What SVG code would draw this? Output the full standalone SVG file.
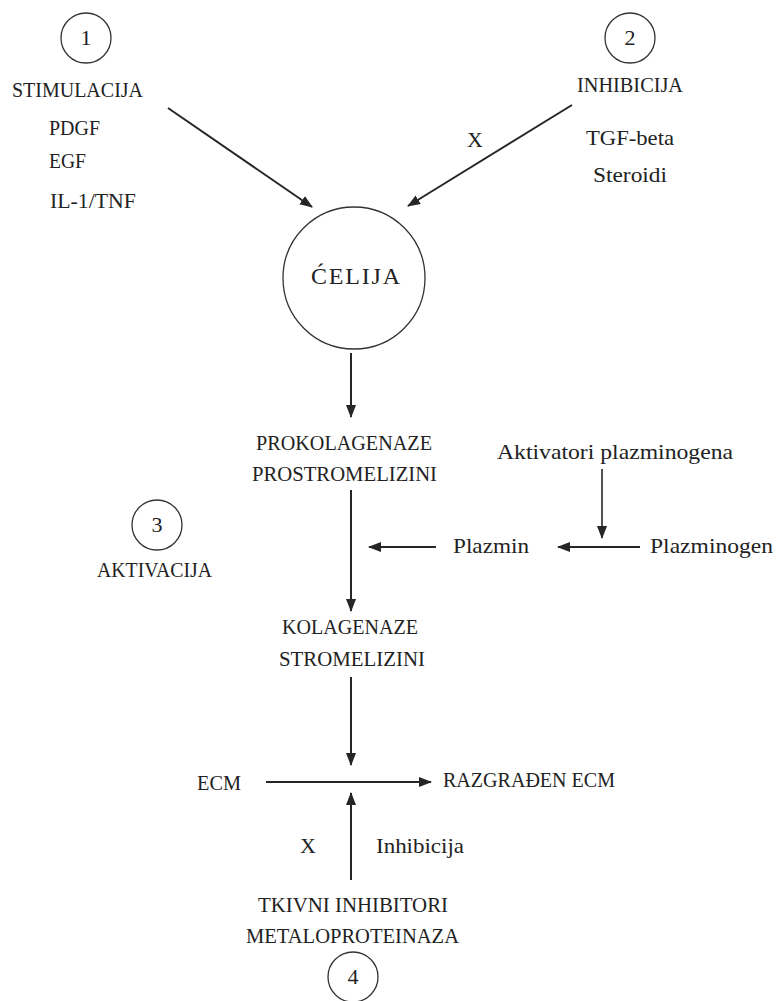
<svg xmlns="http://www.w3.org/2000/svg" width="776" height="1001" viewBox="0 0 776 1001">
<style>
text{font-family:"Liberation Serif","DejaVu Serif",serif;font-size:22px;fill:#222}
.c{fill:none;stroke:#333;stroke-width:1.3}
.a{stroke:#262626;stroke-width:2;fill:none}
.t{stroke:#262626;stroke-width:1.6;fill:none}
.n{text-anchor:middle}
</style>
<defs>
<marker id="ah" markerUnits="userSpaceOnUse" markerWidth="14" markerHeight="12" refX="12" refY="5" orient="auto">
<path d="M0,0 L13,5 L0,10 z" fill="#262626"/>
</marker>
</defs>
<rect width="776" height="1001" fill="#fff"/>
<g id="n1"><circle class="c" cx="86" cy="38" r="25"/><text class="n" x="86" y="45">1</text></g>
<g id="stim"><text x="12" y="97" textLength="131" lengthAdjust="spacingAndGlyphs">STIMULACIJA</text>
<text x="49" y="135" textLength="51" lengthAdjust="spacingAndGlyphs">PDGF</text>
<text x="49" y="168" textLength="37" lengthAdjust="spacingAndGlyphs">EGF</text>
<text x="50" y="208" textLength="86" lengthAdjust="spacingAndGlyphs">IL-1/TNF</text></g>
<g id="n2"><circle class="c" cx="630" cy="38" r="25"/><text class="n" x="630" y="45">2</text></g>
<g id="inh"><text x="577" y="92" textLength="106" lengthAdjust="spacingAndGlyphs">INHIBICIJA</text>
<text x="586" y="145" textLength="88" lengthAdjust="spacingAndGlyphs">TGF-beta</text>
<text x="593" y="182" textLength="74" lengthAdjust="spacingAndGlyphs">Steroidi</text></g>
<g id="cell"><circle class="c" cx="354" cy="278" r="71"/><text x="311" y="284" style="font-size:24px" textLength="89" lengthAdjust="spacing">ĆELIJA</text></g>
<g id="pro"><text x="256" y="450" textLength="176" lengthAdjust="spacingAndGlyphs">PROKOLAGENAZE</text>
<text x="252" y="481" textLength="185" lengthAdjust="spacingAndGlyphs">PROSTROMELIZINI</text></g>
<g id="akt"><text x="497" y="459" textLength="236" lengthAdjust="spacingAndGlyphs">Aktivatori plazminogena</text></g>
<g id="plazmin"><text x="453" y="553" textLength="76" lengthAdjust="spacingAndGlyphs">Plazmin</text></g>
<g id="plazminogen"><text x="650" y="553" textLength="123" lengthAdjust="spacingAndGlyphs">Plazminogen</text></g>
<g id="n3"><circle class="c" cx="157" cy="525" r="25"/><text class="n" x="157" y="532">3</text>
<text x="97" y="577" textLength="115" lengthAdjust="spacingAndGlyphs">AKTIVACIJA</text></g>
<g id="kol"><text x="282" y="634" textLength="136" lengthAdjust="spacingAndGlyphs">KOLAGENAZE</text>
<text x="279" y="666" textLength="146" lengthAdjust="spacingAndGlyphs">STROMELIZINI</text></g>
<g id="ecm"><text x="197" y="790" textLength="44" lengthAdjust="spacingAndGlyphs">ECM</text></g>
<g id="razg"><text x="443" y="787" textLength="172" lengthAdjust="spacingAndGlyphs">RAZGRAĐEN ECM</text></g>
<g id="timp"><text x="258" y="912" textLength="190" lengthAdjust="spacingAndGlyphs">TKIVNI INHIBITORI</text>
<text x="246" y="943" textLength="213" lengthAdjust="spacingAndGlyphs">METALOPROTEINAZA</text></g>
<g id="n4"><circle class="c" cx="353" cy="977" r="25"/><text class="n" x="353" y="984">4</text></g>
<g id="connectors">
<line class="a" x1="168" y1="108" x2="312" y2="207" marker-end="url(#ah)"/>
<line class="a" x1="572" y1="105" x2="408" y2="206" marker-end="url(#ah)"/>
<text x="467" y="147">X</text>
<line class="a" x1="351" y1="353" x2="351" y2="417" marker-end="url(#ah)"/>
<line class="a" x1="351" y1="490" x2="351" y2="611" marker-end="url(#ah)"/>
<line class="t" x1="602" y1="469" x2="602" y2="538" marker-end="url(#ah)"/>
<line class="a" x1="640" y1="547" x2="558" y2="547" marker-end="url(#ah)"/>
<line class="a" x1="436" y1="547" x2="369" y2="547" marker-end="url(#ah)"/>
<line class="a" x1="351" y1="677" x2="351" y2="765" marker-end="url(#ah)"/>
<line class="a" x1="266" y1="782" x2="431" y2="782" marker-end="url(#ah)"/>
<line class="a" x1="351" y1="880" x2="351" y2="793" marker-end="url(#ah)"/>
<text x="300" y="853">X</text>
<text x="376" y="853" textLength="88" lengthAdjust="spacingAndGlyphs">Inhibicija</text>
</g>
</svg>
